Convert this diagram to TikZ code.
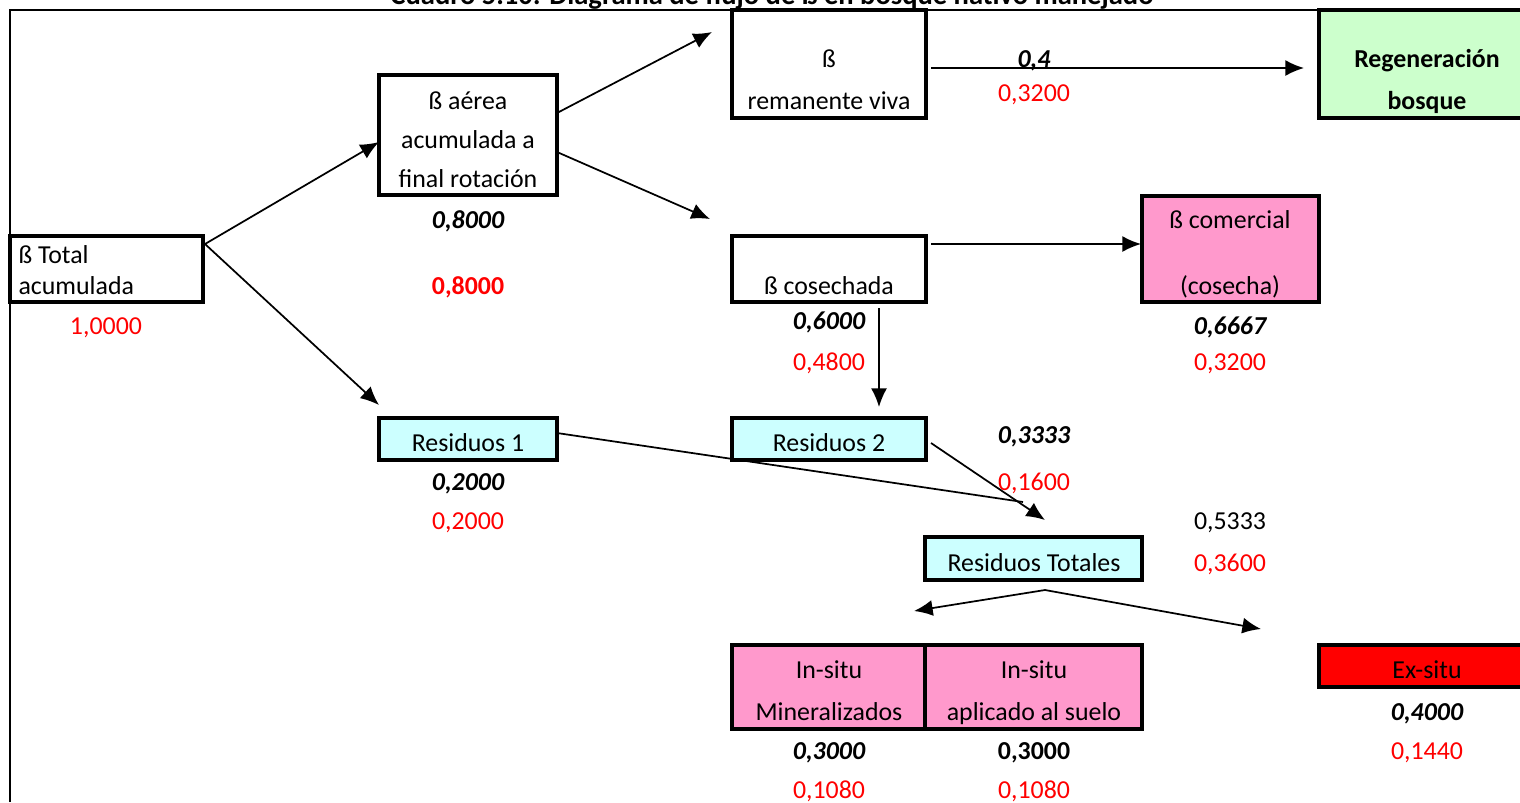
\documentclass[tikz,border=0pt]{standalone}
\usepackage{fontspec}
\setmainfont{Carlito}
\usepackage{xcolor}
\usetikzlibrary{arrows.meta,fit}
\definecolor{celeste}{HTML}{CCFFFF}
\definecolor{verde}{HTML}{CCFFCC}
\definecolor{rosa}{HTML}{FF99CC}
\definecolor{rojo}{HTML}{FF0000}
\tikzset{caja/.style={draw,line width=1.25pt,inner sep=0pt},
         txt/.style={inner sep=0pt,text height=6.2pt,text depth=0pt},
         dato/.style={txt,font=\bfseries\itshape},
         valor/.style={txt,text=rojo},
         flecha/.style={draw,line width=0.65pt,-{Latex[length=7pt,width=6pt]}},
         marco/.style={draw,line width=0.8pt}
         }

\begin{document}
\fontsize{9.7}{11.6}\selectfont
\begin{tikzpicture}[x=0.375pt,y=-0.375pt]
\useasboundingbox (0,0) rectangle (1520,802);
\node[txt,font=\fontsize{10.7}{12.8}\selectfont\bfseries,anchor=base] (titulo) at (772,4) {Cuadro 5.10: Diagrama de flujo de ß en bosque nativo manejado};
\coordinate (m1) at (10,802);
\coordinate (m2) at (10,10);
\coordinate (m3) at (1520,10);
\draw[marco] (m1) -- (m2) -- (m3);

\node[caja,fill=white,fit={(10,236) (203,302)}] (tot) {};
\node[caja,fill=white,fit={(379,75) (557,195)}] (aer) {};
\node[caja,fill=white,fit={(732,10) (926,118)}] (rem) {};
\node[caja,fill=verde,fit={(1319,10) (1530,118)}] (reg) {};
\node[caja,fill=white,fit={(732,236) (926,302)}] (cos) {};
\node[caja,fill=rosa,fit={(1142,196) (1319,302)}] (com) {};
\node[caja,fill=celeste,fit={(379,418) (557,460)}] (res1) {};
\node[caja,fill=celeste,fit={(732,418) (926,460)}] (res2) {};
\node[caja,fill=celeste,fit={(925,537) (1142,580)}] (rtot) {};
\node[caja,fill=rosa,fit={(732,645) (925,729)}] (ins1) {};
\node[caja,fill=rosa,fit={(925,645) (1142,729)}] (ins2) {};
\node[caja,fill=rojo,fit={(1319,645) (1530,687)}] (exs) {};

\node[txt,anchor=west] (totA) at (18,255) {ß Total};
\node[txt,anchor=west] (totB) at (18,286) {acumulada};
\node[valor] (totV) at (106,326) {1,0000};

\node[txt] (aerA) at (468,101) {ß aérea};
\node[txt] (aerB) at (468,140) {acumulada a};
\node[txt] (aerC) at (468,179) {final rotación};
\node[dato] (aerD) at (468,220) {0,8000};
\node[valor,font=\bfseries] (aerV) at (468,286) {0,8000};

\node[txt] (remA) at (829,59) {ß};
\node[txt] (remB) at (829,101) {remanente viva};
\node[dato] (remD) at (1034,59) {0,4};
\node[valor] (remV) at (1034,93) {0,3200};

\node[txt,font=\bfseries] (regA) at (1427,59) {Regeneración};
\node[txt,font=\bfseries] (regB) at (1427,101) {bosque};

\node[txt] (cosA) at (829,286) {ß cosechada};
\node[dato] (cosD) at (829,321) {0,6000};
\node[valor] (cosV) at (829,362) {0,4800};

\node[txt] (comA) at (1230,220) {ß comercial};
\node[txt] (comB) at (1230,286) {(cosecha)};
\node[dato] (comD) at (1230,326) {0,6667};
\node[valor] (comV) at (1230,362) {0,3200};

\node[txt] (res1A) at (468,443) {Residuos 1};
\node[dato] (res1D) at (468,482) {0,2000};
\node[valor] (res1V) at (468,521) {0,2000};

\node[txt] (res2A) at (829,443) {Residuos 2};
\node[dato] (res2D) at (1034,435) {0,3333};
\node[valor] (res2V) at (1034,482) {0,1600};

\node[txt] (rtotA) at (1034,563) {Residuos Totales};
\node[txt] (rtotD) at (1230,521) {0,5333};
\node[valor] (rtotV) at (1230,563) {0,3600};

\node[txt] (ins1A) at (829,670) {In-situ};
\node[txt] (ins1B) at (829,712) {Mineralizados};
\node[dato] (ins1D) at (829,751) {0,3000};
\node[valor] (ins1V) at (829,790) {0,1080};

\node[txt] (ins2A) at (1034,670) {In-situ};
\node[txt] (ins2B) at (1034,712) {aplicado al suelo};
\node[txt,font=\bfseries] (ins2D) at (1034,751) {0,3000};
\node[valor] (ins2V) at (1034,790) {0,1080};

\node[txt] (exsA) at (1427,670) {Ex-situ};
\node[dato] (exsD) at (1427,712) {0,4000};
\node[valor] (exsV) at (1427,751) {0,1440};

\coordinate (totS) at (205,244);
\coordinate (aerE) at (379,142);
\coordinate (res1E) at (379,405);
\coordinate (aerS1) at (557,113);
\coordinate (remE) at (712,32);
\coordinate (aerS2) at (557,152);
\coordinate (cosE) at (710,219);
\coordinate (remS) at (931,68);
\coordinate (regE) at (1304,68);
\coordinate (cosS1) at (931,244);
\coordinate (comE) at (1141,244);
\coordinate (cosS2) at (879,308);
\coordinate (res2E) at (879,407);
\coordinate (res1S) at (557,433);
\coordinate (res1F) at (1023,502);
\coordinate (res2S) at (931,443);
\coordinate (rtotE) at (1045,520);
\coordinate (rtotS) at (1045,590);
\coordinate (insE) at (914,611);
\coordinate (exsE) at (1261,629);

\draw[flecha] (totS) -- (aerE);
\draw[flecha] (totS) -- (res1E);
\draw[flecha] (aerS1) -- (remE);
\draw[flecha] (aerS2) -- (cosE);
\draw[flecha] (remS) -- (regE);
\draw[flecha] (cosS1) -- (comE);
\draw[flecha] (cosS2) -- (res2E);
\draw[line width=0.65pt] (res1S) -- (res1F);
\draw[flecha] (res2S) -- (rtotE);
\draw[flecha] (rtotS) -- (insE);
\draw[flecha] (rtotS) -- (exsE);
\end{tikzpicture}
\end{document}
